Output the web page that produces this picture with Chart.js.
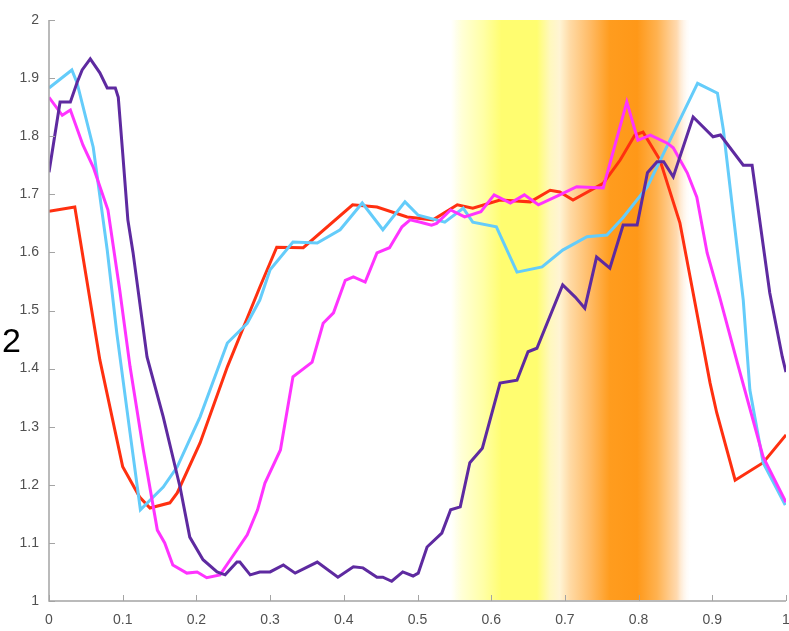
<!DOCTYPE html>
<html>
<head>
<meta charset="utf-8">
<script src="https://cdn.jsdelivr.net/npm/chart.js@4/dist/chart.umd.min.js"></script>
<style>
  html, body { margin: 0; padding: 0; background: #fff; }
  #wrap { width: 789px; height: 631px; }
</style>
</head>
<body>
<div id="wrap"><canvas id="chart"></canvas></div>
<script>
// series
const purpleX = [0, 0.015, 0.029, 0.038, 0.045, 0.056, 0.069, 0.079, 0.090, 0.094, 0.100, 0.107, 0.114, 0.133, 0.155, 0.178, 0.191, 0.209, 0.228, 0.239, 0.255, 0.259, 0.273, 0.286, 0.300, 0.318, 0.334, 0.364, 0.392, 0.413, 0.426, 0.445, 0.453, 0.465, 0.480, 0.494, 0.501, 0.513, 0.533, 0.545, 0.558, 0.571, 0.588, 0.612, 0.635, 0.650, 0.662, 0.697, 0.714, 0.727, 0.743, 0.761, 0.779, 0.798, 0.812, 0.825, 0.834, 0.847, 0.874, 0.901, 0.911, 0.942, 0.954, 0.978, 0.995, 1.0];
const purpleY = [1.738, 1.859, 1.859, 1.892, 1.914, 1.933, 1.909, 1.883, 1.883, 1.867, 1.771, 1.656, 1.600, 1.420, 1.317, 1.195, 1.110, 1.071, 1.050, 1.045, 1.067, 1.067, 1.045, 1.050, 1.050, 1.062, 1.048, 1.067, 1.041, 1.059, 1.057, 1.041, 1.041, 1.034, 1.050, 1.043, 1.048, 1.093, 1.117, 1.157, 1.162, 1.238, 1.263, 1.375, 1.380, 1.429, 1.435, 1.544, 1.523, 1.504, 1.592, 1.573, 1.647, 1.647, 1.737, 1.756, 1.756, 1.730, 1.833, 1.799, 1.802, 1.750, 1.750, 1.530, 1.420, 1.394];

const magentaX = [0, 0.018, 0.029, 0.046, 0.060, 0.080, 0.096, 0.110, 0.128, 0.147, 0.157, 0.168, 0.187, 0.201, 0.214, 0.232, 0.246, 0.269, 0.283, 0.293, 0.314, 0.331, 0.357, 0.372, 0.386, 0.402, 0.413, 0.429, 0.445, 0.462, 0.479, 0.490, 0.504, 0.519, 0.526, 0.545, 0.564, 0.586, 0.604, 0.626, 0.645, 0.664, 0.693, 0.716, 0.752, 0.784, 0.799, 0.816, 0.839, 0.847, 0.866, 0.879, 0.893, 0.910, 0.934, 0.969, 1.0];
const magentaY = [1.867, 1.836, 1.845, 1.785, 1.747, 1.673, 1.535, 1.403, 1.260, 1.122, 1.100, 1.062, 1.048, 1.050, 1.040, 1.045, 1.071, 1.114, 1.157, 1.203, 1.260, 1.386, 1.411, 1.478, 1.496, 1.552, 1.558, 1.549, 1.599, 1.608, 1.644, 1.656, 1.652, 1.647, 1.650, 1.673, 1.661, 1.670, 1.699, 1.685, 1.699, 1.682, 1.699, 1.713, 1.711, 1.859, 1.793, 1.802, 1.788, 1.780, 1.737, 1.695, 1.599, 1.523, 1.410, 1.248, 1.170];

const cyanX = [0, 0.031, 0.038, 0.060, 0.079, 0.092, 0.110, 0.124, 0.155, 0.174, 0.205, 0.242, 0.269, 0.286, 0.300, 0.331, 0.364, 0.395, 0.425, 0.453, 0.483, 0.501, 0.537, 0.562, 0.575, 0.607, 0.635, 0.669, 0.697, 0.730, 0.757, 0.779, 0.812, 0.847, 0.880, 0.907, 0.915, 0.942, 0.951, 0.969, 0.999];
const cyanY = [1.883, 1.914, 1.892, 1.781, 1.604, 1.461, 1.289, 1.157, 1.196, 1.231, 1.317, 1.444, 1.478, 1.518, 1.570, 1.618, 1.616, 1.639, 1.685, 1.639, 1.687, 1.664, 1.652, 1.676, 1.652, 1.644, 1.566, 1.575, 1.604, 1.627, 1.630, 1.660, 1.713, 1.805, 1.891, 1.874, 1.811, 1.518, 1.363, 1.238, 1.165];

const redX = [0, 0.035, 0.069, 0.100, 0.123, 0.137, 0.164, 0.174, 0.205, 0.242, 0.286, 0.309, 0.345, 0.412, 0.445, 0.486, 0.521, 0.554, 0.575, 0.612, 0.653, 0.680, 0.693, 0.711, 0.752, 0.775, 0.795, 0.806, 0.829, 0.856, 0.874, 0.897, 0.906, 0.931, 0.969, 1.0];
const redY = [1.671, 1.678, 1.415, 1.231, 1.179, 1.160, 1.169, 1.186, 1.272, 1.403, 1.540, 1.609, 1.608, 1.682, 1.678, 1.661, 1.656, 1.682, 1.676, 1.690, 1.687, 1.707, 1.704, 1.690, 1.719, 1.759, 1.802, 1.807, 1.759, 1.651, 1.530, 1.375, 1.324, 1.208, 1.238, 1.286];

// background colour band (position in x units, colour)
const bandStops = [
  [0.545, 'rgba(255,255,220,0)'],
  [0.560, 'rgb(255,255,215)'],
  [0.590, 'rgb(255,255,165)'],
  [0.614, 'rgb(255,253,112)'],
  [0.662, 'rgb(255,253,112)'],
  [0.680, 'rgb(255,248,190)'],
  [0.693, 'rgb(255,244,212)'],
  [0.707, 'rgb(255,218,165)'],
  [0.734, 'rgb(255,187,102)'],
  [0.761, 'rgb(255,156,30)'],
  [0.798, 'rgb(255,152,24)'],
  [0.825, 'rgb(255,178,80)'],
  [0.852, 'rgb(255,218,176)'],
  [0.872, 'rgba(255,255,255,0)']
];

const xTicks = [0, 0.1, 0.2, 0.3, 0.4, 0.5, 0.6, 0.7, 0.8, 0.9, 1];
const yTicks = [1, 1.1, 1.2, 1.3, 1.4, 1.5, 1.6, 1.7, 1.8, 1.9, 2];

function pts(xs, ys) {
  return xs.map((x, i) => ({ x: x, y: ys[i] }));
}

function line(label, xs, ys, color) {
  return {
    label: label,
    data: pts(xs, ys),
    borderColor: color,
    borderWidth: 3,
    pointRadius: 0,
    tension: 0,
    fill: false
  };
}

const bandPlugin = {
  id: 'band',
  beforeDatasetsDraw(chart) {
    const ctx = chart.ctx, a = chart.chartArea, xs = chart.scales.x;
    const x0 = xs.getPixelForValue(bandStops[0][0]);
    const x1 = xs.getPixelForValue(bandStops[bandStops.length - 1][0]);
    const g = ctx.createLinearGradient(x0, 0, x1, 0);
    bandStops.forEach(s => {
      g.addColorStop((xs.getPixelForValue(s[0]) - x0) / (x1 - x0), s[1]);
    });
    ctx.save();
    ctx.fillStyle = g;
    ctx.fillRect(x0, a.top, x1 - x0, a.bottom - a.top - 1);
    ctx.restore();
  }
};

// axis lines, inward tick marks and the stray "2" at the left
const decoPlugin = {
  id: 'deco',
  afterDraw(chart) {
    const ctx = chart.ctx, a = chart.chartArea;
    const xs = chart.scales.x, ys = chart.scales.y;
    ctx.save();
    ctx.strokeStyle = '#a4a4a4';
    ctx.lineWidth = 1.5;
    ctx.beginPath();
    ctx.moveTo(a.left, a.top);
    ctx.lineTo(a.left, a.bottom);
    ctx.lineTo(a.right, a.bottom);
    ctx.stroke();
    ctx.lineWidth = 1;
    ctx.beginPath();
    xTicks.forEach(v => {
      const p = Math.round(xs.getPixelForValue(v)) + 0.5;
      ctx.moveTo(p, a.bottom);
      ctx.lineTo(p, a.bottom - 6);
    });
    yTicks.forEach(v => {
      const p = Math.round(ys.getPixelForValue(v)) + 0.5;
      ctx.moveTo(a.left, p);
      ctx.lineTo(a.left + 6, p);
    });
    ctx.stroke();
    ctx.fillStyle = '#000';
    ctx.font = '34px "Liberation Sans", Arial, sans-serif';
    ctx.textBaseline = 'middle';
    ctx.textAlign = 'left';
    ctx.fillText('2', 2, 343);
    ctx.restore();
  }
};

const tickFont = { family: '"Liberation Sans", Arial, sans-serif', size: 14 };

new Chart(document.getElementById('chart'), {
  type: 'line',
  data: {
    datasets: [
      line('purple', purpleX, purpleY, 'rgb(94,42,160)'),
      line('magenta', magentaX, magentaY, 'rgb(255,51,255)'),
      line('cyan', cyanX, cyanY, 'rgb(100,204,250)'),
      line('red', redX, redY, 'rgb(255,48,16)')
    ]
  },
  options: {
    responsive: true,
    maintainAspectRatio: false,
    animation: false,
    layout: { padding: { top: 20, right: 3, left: 0, bottom: 0 } },
    plugins: { legend: { display: false }, tooltip: { enabled: false } },
    scales: {
      x: {
        type: 'linear',
        min: 0,
        max: 1,
        afterBuildTicks: s => { s.ticks = xTicks.map(v => ({ value: v })); },
        afterFit: s => { s.height = 30; s.paddingLeft = 0; s.paddingRight = 0; },
        grid: { display: false },
        border: { display: false },
        ticks: {
          color: '#505050',
          padding: 3,
          maxRotation: 0,
          autoSkip: false,
          font: tickFont,
          callback: v => String(+v.toFixed(1))
        }
      },
      y: {
        min: 1,
        max: 2,
        afterBuildTicks: s => { s.ticks = yTicks.map(v => ({ value: v })); },
        afterFit: s => { s.width = 49; s.paddingTop = 0; s.paddingBottom = 0; },
        grid: { display: false },
        border: { display: false },
        ticks: {
          color: '#505050',
          padding: 2,
          autoSkip: false,
          font: tickFont,
          callback: v => String(+v.toFixed(1))
        }
      }
    }
  },
  plugins: [bandPlugin, decoPlugin]
});
</script>
</body>
</html>
